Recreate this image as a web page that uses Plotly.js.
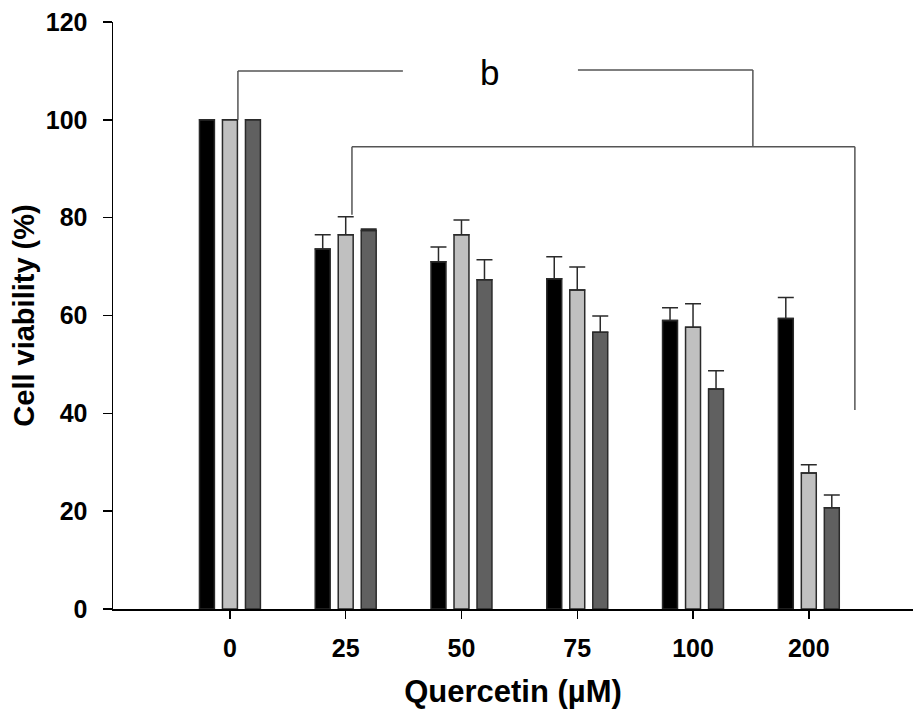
<!DOCTYPE html>
<html>
<head>
<meta charset="utf-8">
<script src="https://cdn.plot.ly/plotly-3.0.1.min.js"></script>
<style>html,body{margin:0;padding:0;background:#fff;}#chart{width:913px;height:713px;}</style>
</head>
<body>
<div id="chart"></div>
<script>
// Data
var categories = ["0", "25", "50", "75", "100", "200"];
var seriesA = [100, 73.6, 71.0, 67.5, 59.0, 59.4];   // black
var errA    = [0, 2.9, 3.0, 4.5, 2.6, 4.3];
var seriesB = [100, 76.5, 76.5, 65.2, 57.6, 27.8];   // light gray
var errB    = [0, 3.7, 3.0, 4.7, 4.8, 1.7];
var seriesC = [100, 77.4, 67.3, 56.6, 45.0, 20.7];   // dark gray
var errC    = [0, 0.3, 4.1, 3.3, 3.7, 2.6];
var yTicks = [0, 20, 40, 60, 80, 100, 120];

var idx = categories.map(function(_, i){ return i; });
var zeros = categories.map(function(){ return 0; });
var lineCol = "#2a2a2a";

function mk(vals, errs, color){
  return {
    type: "bar", x: idx, y: vals,
    marker: {color: color, line: {color: lineCol, width: 1.5}},
    error_y: {type: "data", symmetric: false, array: errs, arrayminus: zeros,
              color: lineCol, thickness: 1.5, width: 8, visible: true},
    hoverinfo: "none", showlegend: false
  };
}

var data = [mk(seriesA, errA, "#000000"), mk(seriesB, errB, "#c0c0c0"), mk(seriesC, errC, "#606060")];

var bc = "#555555";
function seg(x0, y0, x1, y1){
  return {type: "line", xref: "x", yref: "y", x0: x0, y0: y0, x1: x1, y1: y1,
          line: {color: bc, width: 1.5}};
}
var shapes = [
  seg(0.069, 100, 0.069, 110.0),
  seg(0.069, 110.0, 1.494, 110.0),
  seg(3.006, 110.2, 4.517, 110.2),
  seg(4.517, 110.2, 4.517, 94.5),
  seg(1.054, 94.5, 5.398, 94.5),
  seg(1.054, 94.5, 1.054, 80.6),
  seg(5.398, 94.5, 5.398, 40.7)
];

var fam = "Liberation Sans, Arial, sans-serif";
var tickFont = {family: fam, size: 25, color: "#000", weight: "bold"};
var titleFont = {family: fam, size: 31, color: "#000", weight: "bold"};

var layout = {
  width: 913, height: 713,
  margin: {l: 113, r: 0, t: 22, b: 104},
  paper_bgcolor: "#fff", plot_bgcolor: "#fff",
  barmode: "group", bargap: 0.404, bargroupgap: 0.35,
  font: {family: fam, color: "#000"},
  xaxis: {
    range: [-1.01, 5.9], tickvals: idx, ticktext: categories,
    showgrid: false, zeroline: false, showline: true, linecolor: "#000", linewidth: 1.5,
    ticks: "outside", ticklen: 8, tickwidth: 1.5, tickcolor: "#000",
    tickfont: tickFont, ticklabelstandoff: 8, automargin: false,
    title: {text: "Quercetin (µM)", font: titleFont, standoff: 20}
  },
  yaxis: {
    range: [0, 120], tickvals: yTicks, ticktext: yTicks.map(String),
    showgrid: false, zeroline: false, showline: true, linecolor: "#000", linewidth: 1.5,
    ticks: "outside", ticklen: 9, tickwidth: 1.5, tickcolor: "#000",
    tickfont: tickFont, ticklabelstandoff: 10, automargin: false,
    title: {text: "Cell viability (%)", font: {family: fam, size: 29, color: "#000", weight: "bold"}, standoff: 2}
  },
  shapes: shapes,
  annotations: [{
    xref: "x", yref: "y", x: 2.246, y: 109.6, text: "b", showarrow: false,
    font: {family: fam, size: 35, color: "#000"}
  }]
};

Plotly.newPlot("chart", data, layout, {displayModeBar: false, staticPlot: true});
</script>
</body>
</html>
